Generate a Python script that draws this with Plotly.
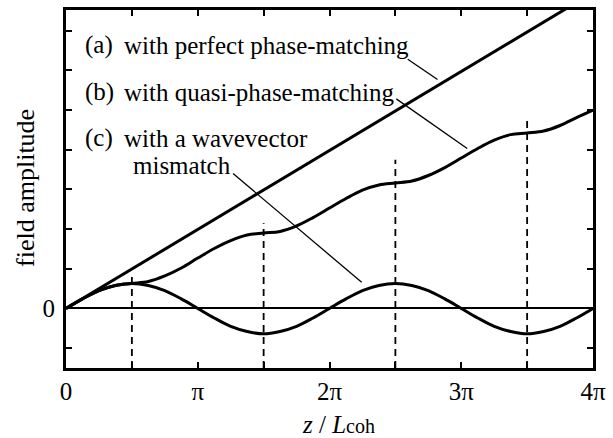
import plotly.graph_objects as go

# ---- data (x in units of pi) ----
z_pi = [0, 0.125, 0.25, 0.375, 0.5, 0.625, 0.75, 0.875, 1.0,
        1.125, 1.25, 1.375, 1.5, 1.625, 1.75, 1.875, 2.0,
        2.125, 2.25, 2.375, 2.5, 2.625, 2.75, 2.875, 3.0,
        3.125, 3.25, 3.375, 3.5, 3.625, 3.75, 3.875, 4.0]

# (a) perfect phase matching (straight line)
a_x = [0, 4]
a_y = [0, 7.96]

# (b) quasi-phase-matching
b_y = [0, 0.24, 0.45, 0.58, 0.63, 0.68, 0.82, 1.02, 1.27,
       1.51, 1.71, 1.85, 1.90, 1.94, 2.08, 2.29, 2.53,
       2.77, 2.98, 3.11, 3.16, 3.21, 3.35, 3.55, 3.79,
       4.03, 4.24, 4.38, 4.42, 4.47, 4.61, 4.81, 5.00]

# (c) wavevector mismatch
c_y = [0, 0.24, 0.45, 0.58, 0.63, 0.58, 0.45, 0.24, 0,
       -0.24, -0.45, -0.58, -0.64, -0.58, -0.45, -0.24, 0,
       0.24, 0.45, 0.58, 0.63, 0.58, 0.45, 0.24, 0,
       -0.24, -0.45, -0.58, -0.64, -0.58, -0.45, -0.24, 0]

# dashed markers at domain reversals
dash_x = [0.5, 1.5, 2.5, 3.5]
dash_top = [0.85, 2.15, 3.75, 4.75]

x_tickvals = [0, 0.5, 1, 1.5, 2, 2.5, 3, 3.5, 4]
x_ticktext = ["0", "", "π", "", "2π", "", "3π", "", "4π"]
y_tickvals = [-1, 0, 1, 2, 3, 4, 5, 6, 7]
y_ticktext = ["", "0", "", "", "", "", "", "", ""]

y_min, y_max = -1.5, 7.52

FONT = "Liberation Serif"
W, H = 613, 438
ML, MR, MT, MB = 66, 14, 7, 70

fig = go.Figure()

# dashed verticals
dx, dy = [], []
for xv, top in zip(dash_x, dash_top):
    dx += [xv, xv, None]
    dy += [y_min, top, None]
fig.add_trace(go.Scatter(x=dx, y=dy, mode="lines",
                         line=dict(color="black", width=1.8, dash="7px,5px"),
                         hoverinfo="skip", showlegend=False))

fig.add_trace(go.Scatter(x=a_x, y=a_y, mode="lines",
                         line=dict(color="black", width=3), showlegend=False))
fig.add_trace(go.Scatter(x=z_pi, y=b_y, mode="lines",
                         line=dict(color="black", width=3, shape="spline", smoothing=1),
                         showlegend=False))
fig.add_trace(go.Scatter(x=z_pi, y=c_y, mode="lines",
                         line=dict(color="black", width=3, shape="spline", smoothing=1),
                         showlegend=False))

axis_common = dict(showline=True, linecolor="black", linewidth=3, mirror="allticks",
                   ticks="inside", ticklen=6, tickwidth=2, tickcolor="black",
                   showgrid=False,
                   tickfont=dict(family=FONT, size=25, color="black"))

fig.update_xaxes(range=[0, 4], tickmode="array", tickvals=x_tickvals,
                 ticktext=x_ticktext, zeroline=False, ticklabelstandoff=-1,
                 **axis_common)
fig.update_yaxes(range=[y_min, y_max], tickmode="array", tickvals=y_tickvals,
                 ticktext=y_ticktext, zeroline=True, zerolinecolor="black",
                 zerolinewidth=2, ticklabelstandoff=3, **axis_common)

plot_w = W - ML - MR
plot_h = H - MT - MB


def px(xp):
    return (xp - ML) / plot_w


def py(yp):
    return (H - MB - yp) / plot_h


annots = []
txt = dict(family=FONT, size=25, color="black")
labels = [("(a)", "with perfect phase-matching", 42.5),
          ("(b)", "with quasi-phase-matching", 90),
          ("(c)", "with a wavevector", 136.5)]
for tag, body, yy in labels:
    annots.append(dict(x=px(84), y=py(yy), xref="paper", yref="paper", text=tag,
                       showarrow=False, xanchor="left", yanchor="middle",
                       font=txt, borderpad=0))
    annots.append(dict(x=px(124), y=py(yy), xref="paper", yref="paper", text=body,
                       showarrow=False, xanchor="left", yanchor="middle",
                       font=txt, borderpad=0))
annots.append(dict(x=px(133), y=py(164), xref="paper", yref="paper", text="mismatch",
                   showarrow=False, xanchor="left", yanchor="middle",
                   font=txt, borderpad=0))
# axis titles
annots.append(dict(x=px(25), y=py(186), xref="paper", yref="paper",
                   text="field amplitude", textangle=-90, showarrow=False,
                   xanchor="center", yanchor="middle",
                   font=dict(family=FONT, size=26, color="black")))
annots.append(dict(x=px(342), y=py(425), xref="paper", yref="paper",
                   text="<i>z</i> / <i>L</i><span style='font-size:20px'>coh</span>",
                   showarrow=False, xanchor="center", yanchor="middle", font=txt))

# leader lines (data coords, x in pi units)
leaders = [((2.594, 6.28), (2.820, 5.77)),
           ((2.507, 5.28), (3.045, 4.03)),
           ((1.268, 3.40), (2.244, 0.66))]
shapes = []
for (x0, y0), (x1, y1) in leaders:
    shapes.append(dict(type="line", xref="x", yref="y", x0=x0, y0=y0, x1=x1, y1=y1,
                       line=dict(color="black", width=1.3)))

fig.update_layout(width=W, height=H, margin=dict(l=ML, r=MR, t=MT, b=MB),
                  paper_bgcolor="white", plot_bgcolor="white",
                  annotations=annots, shapes=shapes, showlegend=False)

fig.write_html("out.html", config={"displayModeBar": False, "staticPlot": True},
               post_script="document.body.style.margin='0';document.body.style.overflow='hidden';")
